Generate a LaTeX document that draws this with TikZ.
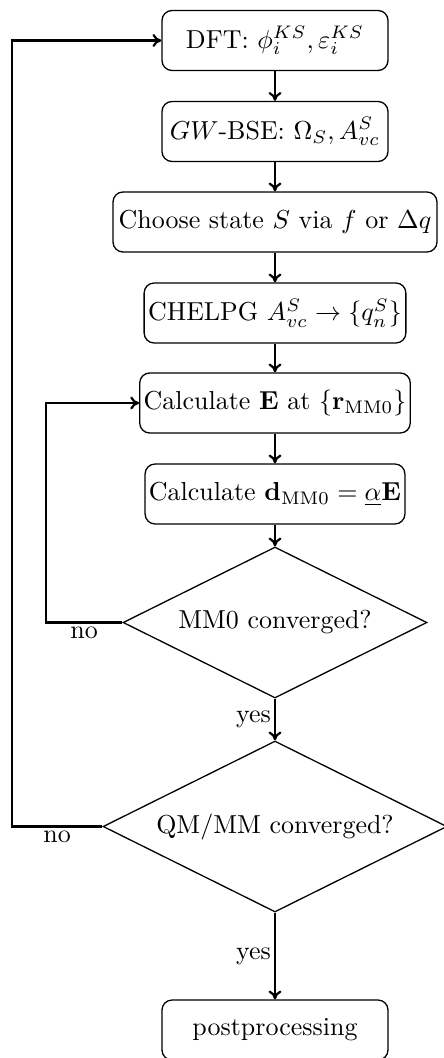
\documentclass[tikz,border=0pt]{standalone}
\usetikzlibrary{shapes.geometric,arrows.meta}
\begin{document}
\begin{tikzpicture}[x=0.385pt,y=-0.385pt,
  box/.style={draw,rounded corners=3.85pt,line width=0.5pt,minimum height={60*0.385pt},minimum width={226*0.385pt},inner sep=1.5pt},
  dec/.style={draw,diamond,shape aspect=2,line width=0.5pt,inner sep=0pt},
  conn/.style={line width=0.85pt,-{To[length=3.4pt,width=5pt]}},
  lbl/.style={inner sep=1.2pt}]
\useasboundingbox (0,0) rectangle (443,1058);
\node[box] (dft) at (275,40.5) {DFT: $\phi_i^{KS},\varepsilon_i^{KS}$};
\node[box] (gw) at (275,131.5) {$GW$-BSE: $\Omega_S,A^S_{vc}$};
\node[box,minimum width={324*0.385pt}] (choose) at (275,222) {Choose state $S$ via $f$ or $\Delta q$};
\node[box,minimum width={248*0.385pt}] (chelpg) at (275,313) {CHELPG $A^S_{vc}\rightarrow\{q^S_n\}$};
\node[box,minimum width={260*0.385pt}] (calce) at (275,403) {Calculate $\mathbf{E}$ at $\{\mathbf{r}_{\mathrm{MM0}}\}$};
\node[box,minimum width={254*0.385pt}] (calcd) at (275,494) {Calculate $\mathbf{d}_{\mathrm{MM0}}=\underline{\alpha}\mathbf{E}$};
\node[dec,minimum width={304*0.385pt},minimum height={151*0.385pt}] (mm0) at (275,622.5) {MM0 converged?};
\node[dec,minimum width={344*0.385pt},minimum height={171*0.385pt}] (qmmm) at (275,826.5) {QM/MM converged?};
\node[box] (post) at (275,1030) {postprocessing};
\coordinate (c1) at (46,622.5);
\coordinate (c2) at (12,826.5);
\draw[conn] (dft) -- (gw);
\draw[conn] (gw) -- (choose);
\draw[conn] (choose) -- (chelpg);
\draw[conn] (chelpg) -- (calce);
\draw[conn] (calce) -- (calcd);
\draw[conn] (calcd) -- (mm0.north);
\draw[conn] (mm0.south) -- node[lbl,left] {yes} (qmmm.north);
\draw[conn] (qmmm.south) -- node[lbl,left] {yes} (post.north);
\draw[conn] (mm0.west) -- node[lbl,below] {no} (c1) |- (calce.west);
\draw[conn] (qmmm.west) -- node[lbl,below] {no} (c2) |- (dft.west);
\end{tikzpicture}
\end{document}
